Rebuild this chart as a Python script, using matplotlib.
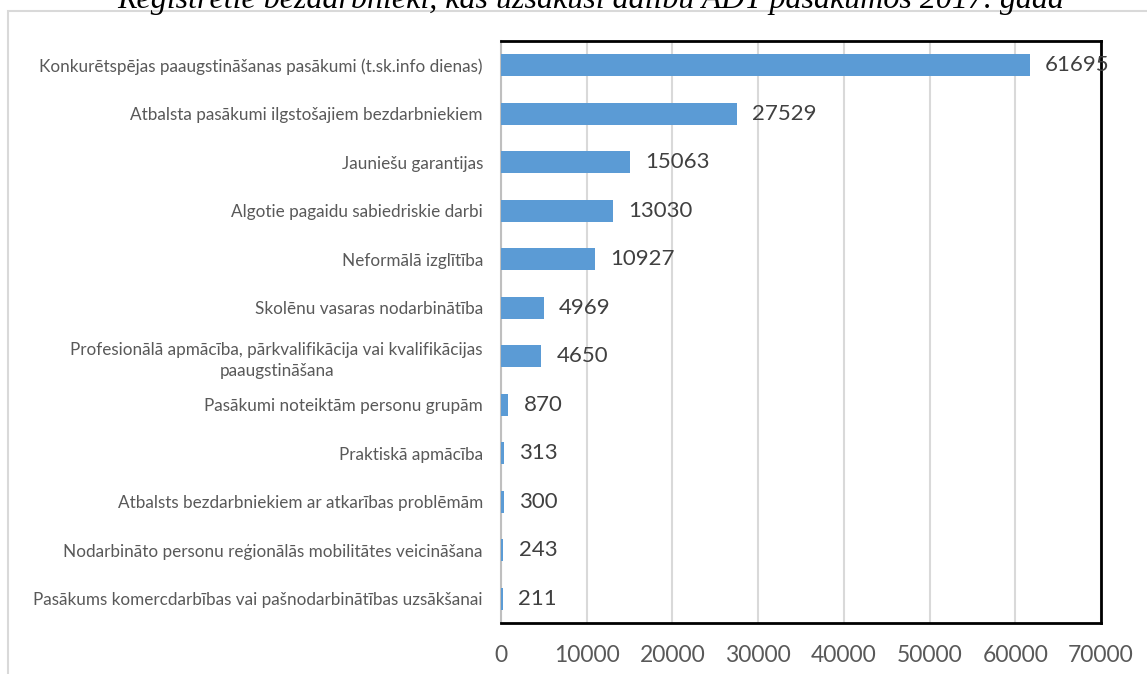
import matplotlib
matplotlib.use("Agg")
import matplotlib.pyplot as plt
from matplotlib.patches import Rectangle

categories = [
    "Konkurētspējas paaugstināšanas pasākumi (t.sk.info dienas)",
    "Atbalsta pasākumi ilgstošajiem bezdarbniekiem",
    "Jauniešu garantijas",
    "Algotie pagaidu sabiedriskie darbi",
    "Neformālā izglītība",
    "Skolēnu vasaras nodarbinātība",
    "Profesionālā apmācība, pārkvalifikācija vai kvalifikācijas\npaaugstināšana",
    "Pasākumi noteiktām personu grupām",
    "Praktiskā apmācība",
    "Atbalsts bezdarbniekiem ar atkarības problēmām",
    "Nodarbināto personu reģionālās mobilitātes veicināšana",
    "Pasākums komercdarbības vai pašnodarbinātības uzsākšanai",
]
values = [61695, 27529, 15063, 13030, 10927, 4969, 4650, 870, 313, 300, 243, 211]
xticks = [0, 10000, 20000, 30000, 40000, 50000, 60000, 70000]
title = "Reģistrētie bezdarbnieki, kas uzsākuši dalību ADT pasākumos 2017. gadā"

plt.rcParams["font.family"] = ["Lato", "DejaVu Sans"]

fig = plt.figure(figsize=(11.47, 6.74), dpi=100)
# outer light-grey chart border
fig.patches.append(Rectangle((8 / 1147, -0.1), 1.2, 1 - 11 / 674 + 0.1,
                             transform=fig.transFigure, fill=False,
                             edgecolor="#d9d9d9", linewidth=1.5))
fig.text(0.515, 1 - 8 / 674, title, ha="center", va="baseline",
         family="Liberation Serif", style="italic", fontsize=23)

ax = fig.add_axes([501 / 1147, 1 - 623 / 674, 600 / 1147, 582 / 674])
y = list(range(len(categories)))
ax.barh(y, values, height=0.45, color="#5b9bd5", zorder=5)
ax.set_ylim(len(categories) - 0.5, -0.5)
ax.set_xlim(0, 70000)
ax.set_xticks(xticks)
ax.set_xticklabels([str(t) for t in xticks], fontsize=16.5, color="#595959")
ax.set_yticks(y)
ax.set_yticklabels(categories, fontsize=12.3, color="#595959",
                   multialignment="center", linespacing=1.4)
ax.tick_params(axis="both", length=0)
ax.tick_params(axis="x", pad=16)
ax.tick_params(axis="y", pad=13)
ax.grid(axis="x", color="#d9d9d9", linewidth=1.5, zorder=0)
for s in ax.spines.values():
    s.set_color("black")
    s.set_linewidth(2)
    s.set_zorder(4)
ax.spines["left"].set_color("#bfbfbf")
ax.spines["left"].set_linewidth(1.5)

for i, v in enumerate(values):
    ax.text(v + 1800, i, str(v), va="center", ha="left", fontsize=16,
            color="#404040", zorder=6)

fig.savefig("out.png", dpi=100)
